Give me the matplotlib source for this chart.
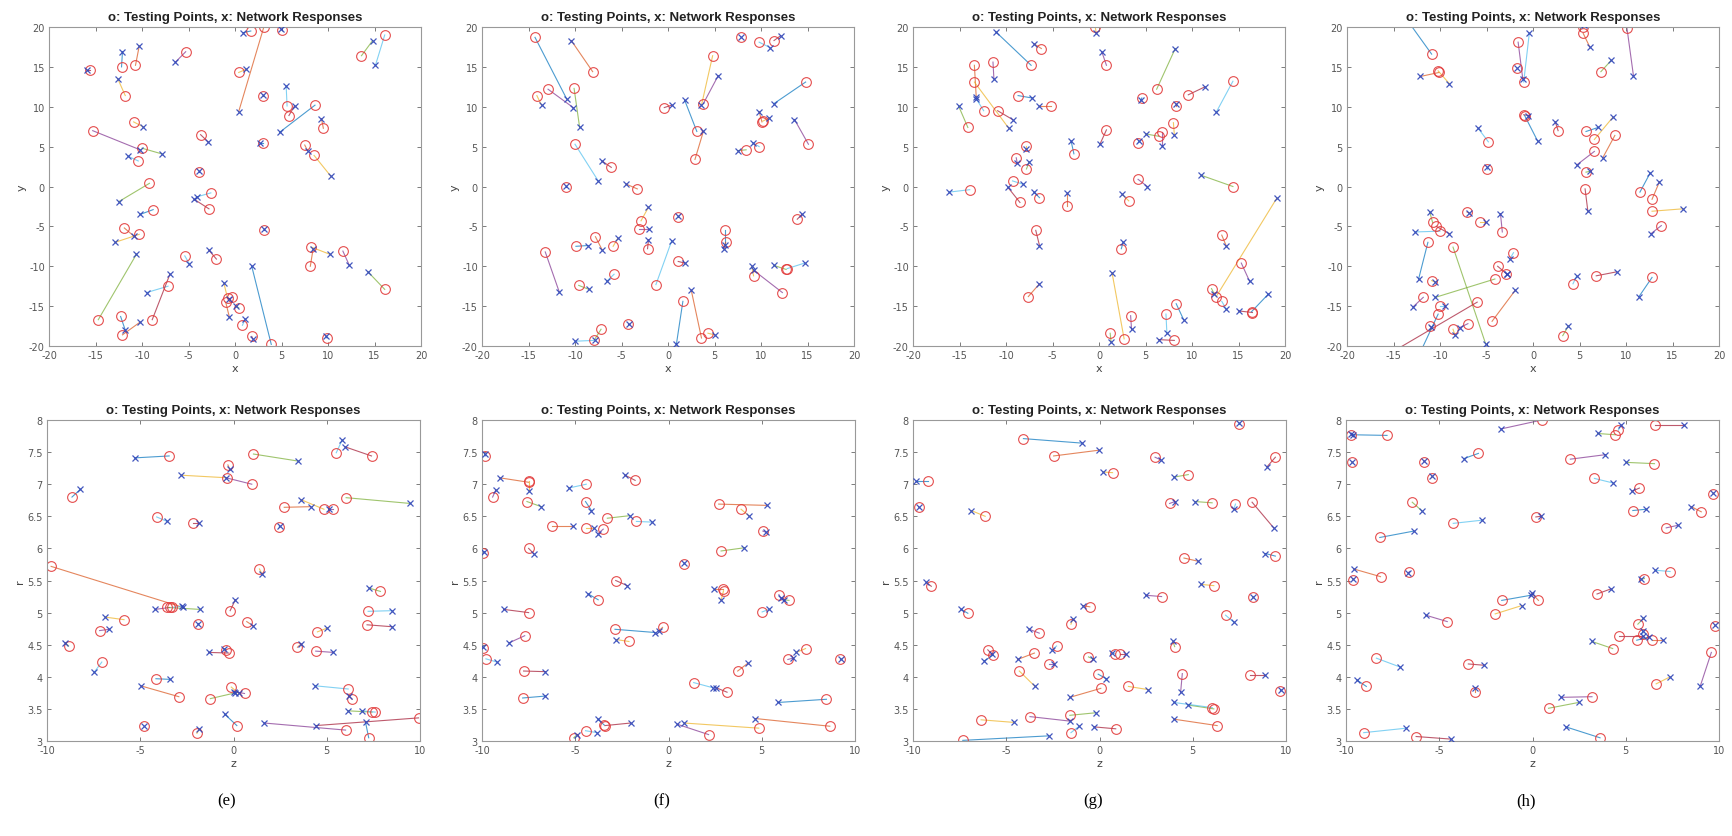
import matplotlib
matplotlib.use('Agg')
import matplotlib.pyplot as plt

plt.rcParams['axes.unicode_minus'] = False

# each entry: (test_x, test_y, resp_x, resp_y)
pairs_a = [
    (1.7, 19.5, 0.9, 19.3), (3.1, 20.0, 0.4, 9.4), (0.4, 14.3, 1.2, 14.7), (5.1, 19.6, 4.9, 19.8),
    (13.6, 16.4, 14.8, 18.3), (16.1, 19.0, 15.1, 15.2), (-15.6, 14.6, -15.9, 14.6), (-12.2, 15.0, -12.1, 16.9),
    (-10.7, 15.2, -10.3, 17.6), (-11.8, 11.4, -12.6, 13.5), (-5.3, 16.9, -6.4, 15.6), (3.0, 11.4, 3.0, 11.5),
    (5.6, 10.1, 5.5, 12.6), (5.8, 8.9, 6.4, 10.1), (8.6, 10.2, 4.8, 6.8), (9.5, 7.3, 9.3, 8.5),
    (-10.9, 8.1, -9.9, 7.5), (-15.3, 7.0, -10.2, 4.6), (-10.0, 4.8, -7.9, 4.1), (-10.4, 3.2, -11.5, 3.8),
    (-3.7, 6.5, -2.9, 5.6), (3.0, 5.5, 2.7, 5.5), (7.5, 5.2, 7.8, 4.5), (8.5, 3.9, 10.3, 1.3),
    (-3.9, 1.8, -3.9, 1.9), (-9.2, 0.4, -12.5, -1.9), (-2.6, -0.8, -4.1, -1.3), (-2.8, -2.8, -4.4, -1.6),
    (-8.8, -2.9, -10.2, -3.5), (-11.9, -5.2, -10.9, -6.2), (-10.3, -6.0, -12.9, -7.0), (3.1, -5.4, 3.1, -5.3),
    (-14.7, -16.7, -10.6, -8.5), (-5.4, -8.7, -4.9, -9.7), (-2.0, -9.1, -2.8, -8.0), (3.9, -19.8, 1.8, -10.0),
    (8.1, -10.0, 8.4, -7.8), (8.2, -7.6, 10.2, -8.5), (11.6, -8.1, 12.3, -9.9), (16.1, -12.9, 14.3, -10.7),
    (-7.2, -12.5, -9.5, -13.3), (-8.9, -16.7, -7.0, -11.0), (-12.3, -16.3, -11.8, -18.0), (-12.1, -18.6, -10.2, -17.0),
    (-0.8, -14.0, -1.2, -12.1), (-0.3, -13.9, -0.6, -14.1), (0.4, -15.2, 0.1, -15.0), (0.8, -17.4, 1.1, -16.6),
    (1.8, -18.8, 1.9, -19.1), (9.9, -19.0, 9.8, -18.8), (-1.0, -14.5, -0.6, -16.4),
]

pairs_b = [
    (-14.3, 18.7, -10.9, 11.0), (-8.1, 14.4, -10.4, 18.3), (-14.1, 11.4, -13.6, 10.2), (-12.9, 12.2, -10.2, 9.9),
    (-10.1, 12.3, -9.5, 7.4), (-10.0, 5.3, -7.5, 0.7), (-6.1, 2.4, -7.1, 3.2), (-11.0, 0.0, -11.0, 0.1),
    (-3.3, -0.3, -4.5, 0.3), (-2.9, -4.3, -2.1, -2.6), (-3.1, -5.3, -2.0, -5.3), (1.1, -3.8, 1.1, -3.7),
    (-1.3, -12.3, 0.4, -6.8), (-2.2, -7.8, -2.1, -6.7), (-9.9, -7.5, -8.6, -7.4), (-7.8, -6.3, -7.1, -7.9),
    (-5.9, -7.5, -5.4, -6.5), (-13.2, -8.2, -11.7, -13.2), (-9.6, -12.4, -8.5, -12.9), (-5.8, -11.0, -6.6, -11.9),
    (1.1, -9.4, 1.8, -9.6), (6.1, -5.4, 6.1, -7.3), (6.2, -7.0, 6.0, -7.8), (9.2, -11.2, 9.0, -10.0),
    (12.3, -13.3, 9.2, -10.5), (12.7, -10.4, 11.4, -9.9), (12.8, -10.3, 14.7, -9.6), (13.9, -4.1, 14.4, -3.5),
    (1.6, -14.4, 0.9, -19.8), (3.6, -19.0, 2.5, -13.0), (4.3, -18.4, 5.0, -18.6), (-4.3, -17.2, -4.2, -17.2),
    (-7.2, -17.9, -7.9, -19.2), (-8.0, -19.3, -10.0, -19.4), (-0.4, 9.9, 0.4, 10.2), (3.1, 6.9, 1.8, 10.8),
    (2.9, 3.4, 3.8, 6.9), (4.8, 16.4, 3.6, 10.2), (3.8, 10.4, 5.4, 13.9), (7.9, 18.7, 7.9, 18.8),
    (9.8, 18.1, 11.0, 17.4), (11.4, 18.3, 12.1, 18.9), (14.8, 13.1, 11.4, 10.4), (10.1, 8.1, 9.8, 9.4),
    (10.2, 8.2, 10.9, 8.6), (15.1, 5.3, 13.6, 8.4), (8.4, 4.6, 7.5, 4.5), (9.8, 5.0, 9.1, 5.5),
]

pairs_c = [
    (-7.3, 15.2, -11.1, 19.4), (-6.2, 17.3, -7.0, 17.9), (-0.4, 20.0, -0.3, 19.2), (0.8, 15.2, 0.3, 16.9),
    (6.2, 12.2, 8.2, 17.3), (14.4, 13.2, 12.6, 9.3), (9.6, 11.5, 11.4, 12.5), (4.6, 11.1, 4.5, 10.8),
    (8.3, 10.1, 8.3, 10.3), (8.0, 8.0, 8.1, 6.5), (6.8, 6.8, 6.8, 5.1), (6.4, 6.3, 5.0, 6.6),
    (4.2, 5.5, 4.3, 5.7), (0.8, 7.1, 0.1, 5.3), (-2.7, 4.1, -3.0, 5.7), (-13.4, 15.2, -13.2, 11.2),
    (-13.4, 13.1, -9.7, 7.3), (-11.4, 15.6, -11.3, 13.5), (-14.1, 7.4, -15.1, 10.1), (-12.4, 9.5, -13.2, 11.0),
    (-10.9, 9.5, -9.3, 8.4), (-8.7, 11.4, -7.2, 11.1), (-5.2, 10.1, -6.4, 10.1), (-7.9, 5.1, -7.9, 4.7),
    (-8.9, 3.6, -8.8, 3.0), (-7.8, 2.2, -7.5, 3.1), (-9.3, 0.7, -8.2, 0.3), (-8.5, -2.0, -9.8, -0.1),
    (-6.4, -1.4, -7.0, -0.7), (-3.4, -2.4, -3.4, -0.8), (3.2, -1.8, 2.5, -1.0), (4.2, 0.9, 5.2, 0.0),
    (14.4, 0.0, 11.0, 1.4), (-13.9, -0.4, -16.1, -0.7), (-6.8, -5.5, -6.4, -7.4), (2.4, -7.8, 2.6, -7.0),
    (13.2, -6.1, 13.7, -7.5), (12.6, -13.8, 19.1, -1.5), (15.3, -9.6, 16.2, -11.9), (12.1, -12.8, 12.4, -13.5),
    (13.2, -14.4, 13.7, -15.4), (16.5, -15.8, 15.0, -15.6), (16.4, -15.7, 18.2, -13.5), (-7.6, -13.8, -6.4, -12.2),
    (2.7, -19.1, 1.4, -10.8), (3.4, -16.2, 3.5, -17.9), (1.2, -18.4, 1.3, -19.5), (7.2, -16.0, 7.3, -18.4),
    (8.1, -19.3, 6.4, -19.2), (8.3, -14.7, 9.1, -16.7),
]

pairs_d = [
    (-10.9, 16.6, -13.3, 20.5), (-10.1, 14.3, -12.1, 13.8), (-10.2, 14.5, -9.0, 12.9), (-1.6, 18.1, -1.1, 13.5),
    (-1.7, 14.8, -1.7, 14.9), (-1.0, 13.1, -0.4, 19.2), (-1.0, 9.0, -0.5, 8.9), (-0.9, 8.9, 0.5, 5.7),
    (5.4, 19.2, 6.1, 17.5), (5.4, 20.0, 5.5, 20.3), (10.1, 19.9, 10.8, 13.9), (7.3, 14.4, 8.4, 15.8),
    (-4.8, 5.6, -5.9, 7.3), (2.7, 7.0, 2.4, 8.1), (5.7, 6.9, 7.0, 7.4), (8.8, 6.4, 7.5, 3.6),
    (6.6, 5.9, 8.6, 8.7), (6.6, 4.4, 4.7, 2.7), (5.7, 1.8, 6.1, 1.9), (-5.0, 2.2, -5.0, 2.4),
    (5.6, -0.3, 5.9, -3.1), (11.5, -0.7, 12.6, 1.7), (12.8, -1.6, 13.6, 0.6), (12.8, -3.1, 16.1, -2.8),
    (13.8, -4.9, 12.7, -5.9), (-10.8, -4.5, -11.1, -3.2), (-10.0, -5.6, -12.7, -5.7), (-10.4, -5.0, -9.0, -5.9),
    (-11.3, -7.0, -12.3, -11.6), (-7.1, -3.2, -6.9, -3.3), (-5.7, -4.5, -5.1, -4.5), (-3.3, -5.7, -3.5, -3.4),
    (-8.6, -7.6, -5.1, -19.7), (-2.1, -8.3, -2.5, -9.1), (-3.8, -10.0, -2.8, -11.0), (-2.9, -11.0, -2.8, -11.0),
    (-4.4, -16.9, -1.9, -13.0), (-10.9, -11.8, -10.5, -12.0), (-11.8, -13.9, -12.9, -15.1), (-4.1, -11.6, -10.5, -13.9),
    (-10.0, -15.0, -9.5, -15.0), (-6.0, -14.5, -15.5, -21.0), (-10.2, -16.0, -12.0, -20.5), (-11.1, -17.5, -11.0, -17.6),
    (-8.6, -17.9, -8.4, -18.6), (-7.0, -17.2, -7.9, -17.7), (3.2, -18.7, 3.8, -17.5), (4.3, -12.2, 4.7, -11.2),
    (6.8, -11.2, 9.0, -10.7), (12.8, -11.4, 11.4, -13.8),
]

pairs_e = [
    (-3.45, 7.44, -5.3, 7.41), (-0.3, 7.30, -0.2, 7.23), (-0.35, 7.10, -2.8, 7.14), (0.98, 7.00, -0.4, 7.10),
    (1.07, 7.47, 3.47, 7.36), (5.51, 7.49, 5.83, 7.69), (7.40, 7.44, 6.0, 7.58), (-8.66, 6.80, -8.21, 6.92),
    (2.72, 6.64, 4.14, 6.65), (4.85, 6.61, 3.61, 6.76), (5.33, 6.61, 5.12, 6.61), (6.04, 6.79, 9.48, 6.70),
    (-4.12, 6.49, -3.56, 6.42), (-2.17, 6.40, -1.85, 6.40), (2.45, 6.33, 2.47, 6.35), (-9.78, 5.72, -2.70, 5.08),
    (1.39, 5.68, 1.53, 5.60), (-3.42, 5.08, -4.20, 5.05), (-3.55, 5.08, -1.81, 5.05), (-3.30, 5.08, -2.74, 5.10),
    (-0.18, 5.03, 0.10, 5.20), (-1.90, 4.82, -1.88, 4.83), (0.71, 4.86, 1.07, 4.79), (-5.87, 4.89, -6.88, 4.93),
    (-7.18, 4.72, -6.65, 4.74), (-8.84, 4.48, -9.01, 4.53), (-7.06, 4.23, -7.47, 4.07), (-0.25, 4.37, -1.32, 4.38),
    (-0.39, 4.42, -0.53, 4.44), (3.43, 4.46, 3.61, 4.51), (4.50, 4.70, 5.03, 4.76), (4.41, 4.40, 5.35, 4.38),
    (7.88, 5.33, 7.29, 5.38), (7.22, 5.02, 8.50, 5.03), (7.16, 4.81, 8.50, 4.78), (-4.16, 3.97, -3.41, 3.96),
    (-2.93, 3.69, -4.98, 3.86), (-0.12, 3.84, 0.28, 3.74), (0.59, 3.74, 0.05, 3.77), (-1.24, 3.66, 0.10, 3.75),
    (6.15, 3.81, 4.37, 3.86), (6.36, 3.65, 6.19, 3.70), (0.18, 3.24, -0.48, 3.42), (-4.80, 3.23, -4.80, 3.24),
    (-1.96, 3.12, -1.85, 3.18), (6.01, 3.17, 1.65, 3.28), (7.43, 3.45, 6.15, 3.47), (7.60, 3.45, 6.90, 3.47),
    (9.92, 3.36, 4.41, 3.24), (7.25, 3.05, 7.08, 3.29),
]

pairs_f = [
    (-9.83, 7.44, -9.85, 7.47), (-7.50, 7.03, -9.06, 7.10), (-7.50, 7.05, -7.50, 6.89), (-9.43, 6.80, -9.26, 6.91),
    (-7.59, 6.73, -6.82, 6.65), (-4.41, 7.00, -5.35, 6.94), (-1.79, 7.06, -2.33, 7.14), (-4.45, 6.73, -4.13, 6.59),
    (-6.24, 6.35, -5.13, 6.35), (-4.45, 6.32, -4.00, 6.32), (-3.50, 6.30, -3.78, 6.23), (-3.28, 6.47, -2.08, 6.51),
    (-1.72, 6.42, -0.90, 6.41), (-7.50, 6.00, -7.23, 5.92), (-9.92, 5.93, -9.88, 5.95), (2.69, 6.69, 5.27, 6.67),
    (3.89, 6.61, 4.30, 6.51), (5.06, 6.27, 5.24, 6.25), (2.82, 5.96, 4.07, 6.01), (0.84, 5.76, 0.85, 5.77),
    (-2.83, 5.50, -2.21, 5.42), (-3.77, 5.20, -4.30, 5.29), (2.91, 5.36, 2.46, 5.36), (2.95, 5.34, 2.82, 5.19),
    (5.92, 5.28, 6.04, 5.22), (6.46, 5.19, 6.20, 5.20), (5.02, 5.01, 5.38, 5.05), (-7.50, 5.00, -8.84, 5.05),
    (-2.87, 4.74, -0.72, 4.69), (-0.32, 4.77, -0.50, 4.72), (-2.12, 4.55, -2.80, 4.58), (-7.71, 4.64, -8.54, 4.53),
    (-9.92, 4.45, -9.95, 4.47), (-9.79, 4.28, -9.20, 4.23), (-7.77, 4.09, -6.60, 4.08), (-7.82, 3.67, -6.60, 3.70),
    (3.71, 4.09, 4.25, 4.21), (7.35, 4.44, 6.85, 4.38), (6.40, 4.27, 6.67, 4.29), (9.22, 4.27, 9.24, 4.28),
    (1.35, 3.91, 2.37, 3.83), (3.14, 3.76, 2.55, 3.83), (8.47, 3.65, 5.87, 3.60), (8.65, 3.23, 4.66, 3.35),
    (4.84, 3.20, 0.84, 3.28), (2.15, 3.10, 0.48, 3.26), (-5.08, 3.05, -4.90, 3.10), (-4.45, 3.16, -3.82, 3.13),
    (-3.41, 3.24, -2.03, 3.28), (-3.45, 3.25, -3.78, 3.34),
]

pairs_g = [
    (-4.08, 7.71, -0.94, 7.64), (-2.46, 7.44, -0.02, 7.53), (0.70, 7.18, 0.20, 7.19), (2.98, 7.42, 3.28, 7.38),
    (4.76, 7.15, 3.99, 7.11), (7.50, 7.93, 7.50, 7.95), (9.43, 7.42, 8.98, 7.27), (-9.20, 7.05, -9.82, 7.05),
    (-9.68, 6.64, -9.70, 6.65), (-6.13, 6.50, -6.88, 6.59), (3.76, 6.70, 4.05, 6.73), (6.04, 6.71, 5.12, 6.73),
    (7.29, 6.69, 7.20, 6.61), (8.18, 6.72, 9.34, 6.32), (9.43, 5.88, 8.90, 5.92), (4.53, 5.85, 5.29, 5.80),
    (6.13, 5.42, 5.42, 5.44), (3.33, 5.25, 2.48, 5.27), (8.22, 5.24, 8.24, 5.25), (6.76, 4.96, 7.20, 4.85),
    (-9.02, 5.41, -9.29, 5.47), (-7.06, 4.99, -7.42, 5.05), (-0.52, 5.09, -0.91, 5.11), (-1.53, 4.82, -1.44, 4.90),
    (-3.23, 4.68, -3.76, 4.74), (4.03, 4.47, 3.94, 4.55), (-2.30, 4.48, -2.55, 4.42), (-5.99, 4.42, -5.76, 4.35),
    (-5.69, 4.34, -6.17, 4.25), (-3.49, 4.37, -4.39, 4.27), (-4.30, 4.09, -3.46, 3.85), (-2.69, 4.20, -2.42, 4.20),
    (-0.59, 4.31, -0.37, 4.28), (0.84, 4.36, 0.66, 4.37), (1.09, 4.36, 1.41, 4.36), (-0.07, 4.04, 0.37, 3.97),
    (0.07, 3.82, -1.59, 3.68), (1.55, 3.85, 2.62, 3.80), (4.44, 4.05, 4.35, 3.76), (6.13, 3.50, 4.76, 3.56),
    (6.05, 3.52, 3.99, 3.60), (8.09, 4.03, 8.90, 4.03), (9.70, 3.78, 9.72, 3.80), (6.31, 3.24, 3.99, 3.34),
    (-6.35, 3.33, -4.60, 3.29), (-3.73, 3.38, -1.59, 3.31), (-1.59, 3.40, -0.20, 3.44), (-1.53, 3.13, -1.09, 3.23),
    (0.87, 3.19, -0.29, 3.22), (-7.33, 3.01, -2.73, 3.08),
]

pairs_h = [
    (-7.80, 7.76, -9.65, 7.77), (-9.71, 7.77, -9.71, 7.78), (-9.68, 7.34, -9.66, 7.35), (0.50, 8.00, -1.70, 7.86),
    (4.44, 7.77, 3.49, 7.79), (4.60, 7.84, 4.75, 7.92), (6.59, 7.92, 8.10, 7.92), (-2.90, 7.48, -3.67, 7.40),
    (-5.82, 7.35, -5.80, 7.36), (-5.41, 7.10, -5.40, 7.12), (2.03, 7.39, 3.91, 7.46), (6.54, 7.32, 5.02, 7.34),
    (3.32, 7.09, 4.30, 7.02), (5.73, 6.94, 5.34, 6.89), (5.38, 6.59, 6.09, 6.61), (9.05, 6.57, 8.51, 6.65),
    (9.68, 6.85, 9.70, 6.86), (7.17, 6.32, 7.80, 6.36), (-6.45, 6.72, -5.95, 6.59), (-4.25, 6.39, -2.69, 6.44),
    (0.18, 6.49, 0.45, 6.50), (-8.19, 6.17, -6.36, 6.27), (-8.15, 5.56, -9.59, 5.68), (-9.64, 5.51, -9.62, 5.53),
    (-6.60, 5.64, -6.65, 5.62), (6.00, 5.53, 5.82, 5.52), (7.38, 5.64, 6.59, 5.66), (3.46, 5.29, 4.21, 5.37),
    (-1.65, 5.19, -0.09, 5.27), (0.32, 5.19, -0.04, 5.30), (-2.00, 4.98, -0.57, 5.11), (-4.57, 4.86, -5.73, 4.96),
    (5.65, 4.82, 5.95, 4.91), (5.91, 4.67, 5.90, 4.72), (4.62, 4.64, 5.91, 4.64), (5.59, 4.57, 6.27, 4.62),
    (6.42, 4.57, 6.99, 4.57), (9.77, 4.79, 9.78, 4.80), (9.59, 4.38, 9.00, 3.86), (4.30, 4.44, 3.19, 4.55),
    (-8.37, 4.29, -7.08, 4.15), (-3.44, 4.20, -2.60, 4.18), (-8.91, 3.85, -9.41, 3.95), (-3.08, 3.77, -3.08, 3.82),
    (6.63, 3.89, 7.38, 4.00), (3.19, 3.69, 1.52, 3.68), (0.86, 3.51, 2.47, 3.60), (-9.05, 3.13, -6.76, 3.20),
    (-6.24, 3.07, -4.39, 3.03), (3.62, 3.05, 1.79, 3.22),
]

captions = ['(e)', '(f)', '(g)', '(h)']
title = 'o: Testing Points, x: Network Responses'

# MATLAB default line colour order
line_colors = ['#0072BD', '#D95319', '#EDB120', '#7E2F8E', '#77AC30', '#4DBEEE', '#A2142F']

W, H = 1732, 837


def plotPanel(ax, pairs, xlim, ylim, xticks, yticks, xlab, ylab):
    for i, (ox, oy, rx, ry) in enumerate(pairs):
        ax.plot([ox, rx], [oy, ry], '-', color=line_colors[i % 7], lw=0.8, alpha=0.7, zorder=1)
    ax.plot([p[0] for p in pairs], [p[1] for p in pairs], 'o', mfc='none', mec='#e23a3a',
            ms=7, mew=0.8, alpha=0.9, zorder=2)
    ax.plot([p[2] for p in pairs], [p[3] for p in pairs], 'x', color='#2f45b8',
            ms=5, mew=0.9, alpha=0.9, zorder=3)
    ax.set_xlim(xlim)
    ax.set_ylim(ylim)
    ax.set_xticks(xticks)
    ax.set_yticks(yticks)
    ax.set_yticklabels([('%g' % v) for v in yticks])
    ax.tick_params(direction='in', top=True, right=True, length=3, width=0.6,
                   labelsize=7, colors='#666666', labelcolor='#555555', pad=3)
    for s in ax.spines.values():
        s.set_color('#999999')
        s.set_linewidth(0.8)
    ax.set_xlabel(xlab, fontsize=8, color='#444444', labelpad=2)
    ax.set_ylabel(ylab, fontsize=8, color='#444444', labelpad=2)
    ax.set_title(title, fontsize=9.5, fontweight='bold', color='#222222', pad=5,
                 family='Liberation Sans')


fig = plt.figure(figsize=(W / 100, H / 100), dpi=100)

top_left = [49, 482, 913, 1347]
bot_left = [47, 482, 913, 1346]
top_pairs = [pairs_a, pairs_b, pairs_c, pairs_d]
bot_pairs = [pairs_e, pairs_f, pairs_g, pairs_h]

for k in range(4):
    ax = fig.add_axes([top_left[k] / W, (H - 347) / H, 372 / W, 319 / H])
    plotPanel(ax, top_pairs[k], (-20, 20), (-20, 20), range(-20, 21, 5), range(-20, 21, 5), 'x', 'y')

    ax = fig.add_axes([bot_left[k] / W, (H - 742) / H, 373 / W, 321 / H])
    plotPanel(ax, bot_pairs[k], (-10, 10), (3, 8), range(-10, 11, 5),
              [3, 3.5, 4, 4.5, 5, 5.5, 6, 6.5, 7, 7.5, 8], 'z', 'r')

    fig.text((bot_left[k] + 180) / W, 1 - 801 / H, captions[k], ha='center', va='center',
             fontsize=12, family='Liberation Serif')

fig.savefig('out.png', dpi=100)
